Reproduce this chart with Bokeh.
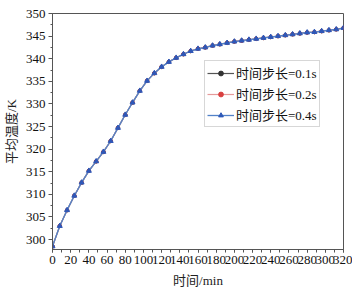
from bokeh.plotting import figure
from bokeh.models import Range1d, SingleIntervalTicker, Legend, LegendItem, ColumnDataSource
from bokeh.embed import file_html
from bokeh.resources import INLINE

time_min = list(range(0, 321, 8))
temp_01 = [298.5, 303.0, 306.5, 309.7, 312.6, 315.2, 317.3, 319.4, 321.8, 324.7,
           327.6, 330.3, 332.9, 335.1, 336.8, 338.2, 339.3, 340.2, 341.0, 341.7,
           342.2, 342.5, 342.9, 343.2, 343.5, 343.8, 344.0, 344.2, 344.4, 344.6,
           344.8, 345.0, 345.2, 345.4, 345.6, 345.8, 345.9, 346.1, 346.3, 346.5, 346.8]
temp_02 = list(temp_01)
temp_04 = list(temp_01)
series_labels = ["时间步长=0.1s", "时间步长=0.2s", "时间步长=0.4s"]
x_label = "时间/min"
y_label = "平均温度/K"

FONT = "Liberation Serif, Noto Sans CJK SC"

p = figure(width=352, height=292, output_backend="svg", toolbar_location=None,
           x_range=Range1d(0, 320), y_range=Range1d(297.8, 350),
           min_border_left=50, min_border_right=9, min_border_top=13, min_border_bottom=43)
p.background_fill_color = "white"
p.border_fill_color = "white"
p.outline_line_color = "#555555"
p.outline_line_width = 1
p.grid.visible = False

for ax, interval in ((p.xaxis[0], 20), (p.yaxis[0], 5)):
    ax.ticker = SingleIntervalTicker(interval=interval, num_minor_ticks=2)
    ax.axis_line_color = "#555555"
    ax.major_tick_line_color = "#555555"
    ax.minor_tick_line_color = "#555555"
    ax.major_label_text_font = FONT
    ax.major_label_text_font_size = "13px"
    ax.major_label_text_color = "#111111"
    ax.axis_label_text_font = FONT
    ax.axis_label_text_font_size = "13px"
    ax.axis_label_text_font_style = "normal"
    ax.axis_label_text_color = "#222222"

p.xaxis.major_tick_out = 3
p.xaxis.major_tick_in = 0
p.xaxis.minor_tick_out = 3
p.xaxis.minor_tick_in = 0
p.xaxis.major_label_standoff = 3
p.xaxis.axis_label = x_label
p.xaxis.axis_label_standoff = 6

p.yaxis.major_tick_out = 4
p.yaxis.major_tick_in = 0
p.yaxis.minor_tick_out = 2
p.yaxis.minor_tick_in = 0
p.yaxis.major_label_standoff = 3
p.yaxis.axis_label = y_label
p.yaxis.axis_label_standoff = 4

src = ColumnDataSource(dict(t=time_min, a=temp_01, b=temp_02, c=temp_04))

l1 = p.line("t", "a", source=src, line_color="#555555", line_width=1.2)
m1 = p.scatter("t", "a", source=src, marker="circle", size=3.5, color="#333333")
l2 = p.line("t", "b", source=src, line_color="#e59a9a", line_width=1.2)
m2 = p.scatter("t", "b", source=src, marker="circle", size=3.5, color="#d94040")
l3 = p.line("t", "c", source=src, line_color="#5282c8", line_width=1.3)
m3 = p.scatter("t", "c", source=src, marker="triangle", size=5, color="#2e58b8")

legend = Legend(items=[
    LegendItem(label=series_labels[0], renderers=[l1, m1]),
    LegendItem(label=series_labels[1], renderers=[l2, m2]),
    LegendItem(label=series_labels[2], renderers=[l3, m3]),
], location=(152, 122))
legend.label_text_font = FONT
legend.label_text_font_size = "13px"
legend.label_text_color = "#111111"
legend.label_height = 12
legend.label_standoff = 2
legend.glyph_width = 27
legend.glyph_height = 12
legend.spacing = 2
legend.padding = 2
legend.margin = 0
legend.border_line_color = "#b0b0b0"
legend.background_fill_color = "white"
legend.background_fill_alpha = 1
p.add_layout(legend, "center")

open("out.html", "w").write(file_html(p, INLINE))
